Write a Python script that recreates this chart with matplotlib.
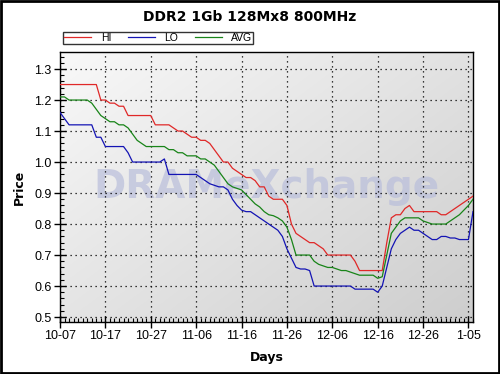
import numpy as np
import matplotlib.pyplot as plt
from matplotlib.ticker import MultipleLocator
from matplotlib.patches import Rectangle

# daily prices, 10-07 .. 1-05 (+1)
hi = [1.25, 1.25, 1.25, 1.25, 1.25, 1.25, 1.25, 1.25, 1.25, 1.20,
      1.20, 1.19, 1.19, 1.18, 1.18, 1.15, 1.15, 1.15, 1.15, 1.15,
      1.15, 1.12, 1.12, 1.12, 1.12, 1.11, 1.10, 1.10, 1.09, 1.08,
      1.08, 1.07, 1.07, 1.06, 1.04, 1.02, 1.00, 1.00, 0.98, 0.97,
      0.96, 0.95, 0.95, 0.94, 0.92, 0.92, 0.89, 0.88, 0.88, 0.88,
      0.86, 0.80, 0.77, 0.76, 0.75, 0.74, 0.74, 0.73, 0.72, 0.70,
      0.70, 0.70, 0.70, 0.70, 0.70, 0.68, 0.65, 0.65, 0.65, 0.65,
      0.65, 0.65, 0.74, 0.82, 0.83, 0.83, 0.85, 0.86, 0.84, 0.84,
      0.84, 0.84, 0.84, 0.84, 0.83, 0.83, 0.84, 0.85, 0.86, 0.87,
      0.88, 0.89]
lo = [1.16, 1.14, 1.12, 1.12, 1.12, 1.12, 1.12, 1.12, 1.08, 1.08,
      1.05, 1.05, 1.05, 1.05, 1.05, 1.03, 1.00, 1.00, 1.00, 1.00,
      1.00, 1.00, 1.00, 1.01, 0.96, 0.96, 0.96, 0.96, 0.96, 0.96,
      0.96, 0.95, 0.94, 0.93, 0.925, 0.92, 0.92, 0.91, 0.88, 0.86,
      0.845, 0.84, 0.84, 0.83, 0.82, 0.81, 0.80, 0.79, 0.78, 0.76,
      0.72, 0.69, 0.66, 0.655, 0.655, 0.65, 0.60, 0.60, 0.60, 0.60,
      0.60, 0.60, 0.60, 0.60, 0.60, 0.59, 0.59, 0.59, 0.59, 0.59,
      0.58, 0.60, 0.66, 0.72, 0.75, 0.77, 0.78, 0.79, 0.78, 0.78,
      0.77, 0.76, 0.75, 0.75, 0.76, 0.76, 0.755, 0.755, 0.75, 0.75,
      0.75, 0.84]
avg = [1.21, 1.21, 1.20, 1.20, 1.20, 1.20, 1.20, 1.19, 1.17, 1.15,
       1.14, 1.13, 1.13, 1.12, 1.12, 1.11, 1.09, 1.07, 1.06, 1.05,
       1.05, 1.05, 1.05, 1.05, 1.04, 1.04, 1.03, 1.03, 1.02, 1.02,
       1.02, 1.01, 1.01, 1.00, 0.99, 0.97, 0.95, 0.93, 0.92, 0.915,
       0.91, 0.895, 0.88, 0.865, 0.855, 0.84, 0.83, 0.827, 0.82, 0.81,
       0.79, 0.75, 0.70, 0.70, 0.70, 0.70, 0.68, 0.67, 0.665, 0.66,
       0.66, 0.655, 0.65, 0.65, 0.645, 0.64, 0.635, 0.635, 0.635, 0.635,
       0.625, 0.63, 0.70, 0.77, 0.79, 0.81, 0.82, 0.82, 0.82, 0.82,
       0.81, 0.805, 0.80, 0.80, 0.80, 0.80, 0.81, 0.82, 0.83, 0.845,
       0.86, 0.88]
tick_labels = ["10-07", "10-17", "10-27", "11-06", "11-16", "11-26",
               "12-06", "12-16", "12-26", "1-05"]

days = np.arange(len(hi))

fig = plt.figure(figsize=(5, 3.74), dpi=100)
ax = fig.add_axes([0.12, 0.139, 0.826, 0.722])

# gradient background, light top-left -> grey bottom-right
gx, gy = np.meshgrid(np.linspace(0, 1, 200), np.linspace(0, 1, 200))
g = 0.975 - 0.09 * gx - 0.08 * gy
bg = np.dstack([g, g, g])
ax.imshow(bg, extent=[0, 1, 0, 1], transform=ax.transAxes, origin="upper",
          aspect="auto", zorder=0)

# watermark
ax.text(0.5, 0.5, "DRAMeXchange", transform=ax.transAxes, ha="center",
        va="center", fontsize=28, fontweight="bold", color="#b9bedb",
        alpha=0.7, zorder=1, family="DejaVu Sans")

ax.plot(days, hi, color="#e02828", lw=0.9, label="HI", zorder=3)
ax.plot(days, lo, color="#1414b4", lw=0.9, label="LO", zorder=3)
ax.plot(days, avg, color="#188418", lw=0.9, label="AVG", zorder=3)

ax.set_xlim(0, 91)
ax.set_ylim(0.484, 1.355)
ax.set_xticks(np.arange(0, 91, 10))
ax.set_xticklabels(tick_labels, fontsize=9, family="Liberation Sans")
ax.set_yticks(np.arange(0.5, 1.31, 0.1))
ax.set_yticklabels(["%.1f" % v for v in np.arange(0.5, 1.31, 0.1)],
                   fontsize=9, family="Liberation Sans")
ax.xaxis.set_minor_locator(MultipleLocator(1))
ax.yaxis.set_minor_locator(MultipleLocator(0.02))
ax.tick_params(which="major", direction="inout", length=8, width=1, pad=2)
ax.tick_params(which="minor", direction="in", length=3, width=0.8)
ax.grid(True, which="major", color="black", linestyle=(0, (1, 3)), lw=0.9)
for s in ax.spines.values():
    s.set_linewidth(1)

ax.set_xlabel("Days", fontsize=9, fontweight="bold", labelpad=6)
ax.set_ylabel("Price", fontsize=9, fontweight="bold", labelpad=6)
fig.text(0.5, 0.955, "DDR2 1Gb 128Mx8 800MHz", ha="center", va="center",
         fontsize=10, fontweight="bold")

leg = ax.legend(loc="lower left", bbox_to_anchor=(-0.005, 1.01), ncol=3,
                frameon=True, fancybox=False, handlelength=2.6,
                columnspacing=1.6, borderpad=0.1, handletextpad=0.9,
                prop={"family": "Liberation Sans", "size": 7.5})
leg.get_frame().set_edgecolor("black")
leg.get_frame().set_linewidth(1)

fig.patches.append(Rectangle((0.002, 0.002), 0.996, 0.996, transform=fig.transFigure,
                             fill=False, edgecolor="black", lw=2))

fig.savefig("out.png", dpi=100)
